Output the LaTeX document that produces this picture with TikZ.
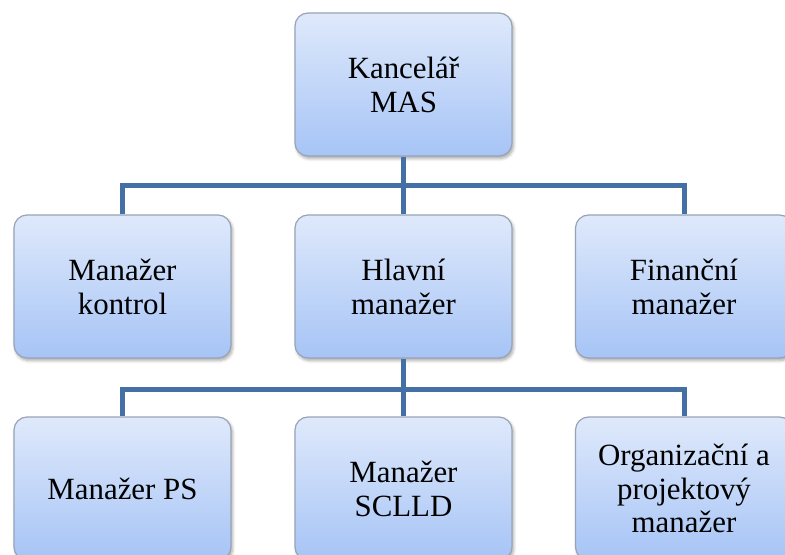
\documentclass[tikz,border=0pt]{standalone}
\usepackage{fontspec}
\setmainfont{Liberation Serif}
\newfontfamily\tnr{Liberation Serif}
\usetikzlibrary{shadows.blur}
\definecolor{conncol}{HTML}{4570A5}
\definecolor{boxtop}{HTML}{DFE9FB}
\definecolor{boxbot}{HTML}{A6C4F6}
\definecolor{boxline}{HTML}{98A4B6}
\tikzset{
  orgbox/.style={draw=boxline, line width=1.2bp, rounded corners=13bp,
    top color=boxtop, bottom color=boxbot,
    minimum width=217bp, minimum height=143bp, inner sep=0pt,
    align=center, font=\tnr\fontsize{31}{34}\selectfont,
    blur shadow={shadow xshift=1.5bp, shadow yshift=-2.5bp, shadow blur steps=6, shadow blur radius=3bp, shadow opacity=35}},
  conn/.style={draw=conncol, line width=5bp}
}
\begin{document}
\begin{tikzpicture}[x=1bp,y=-1bp]
\useasboundingbox (0,0) rectangle (785,555);
\clip (0,0) rectangle (785,555);
\coordinate (j1) at (403.5,186);
\coordinate (j2) at (403.5,389);
\node[orgbox] (k) at (403.5,84.5) {Kancelář\\MAS};
\node[orgbox] (mk) at (122.5,286.5) {Manažer\\kontrol};
\node[orgbox] (hm) at (403.5,286.5) {Hlavní\\manažer};
\node[orgbox] (fm) at (684,286.5) {Finanční\\manažer};
\node[orgbox] (ps) at (122.5,488.5) {Manažer PS};
\node[orgbox] (sc) at (403.5,488.5) {Manažer\\SCLLD};
\node[orgbox] (op) at (684,488.5) {Organizační a\\projektový\\manažer};
\draw[conn] (k.south) -- (hm.north);
\draw[conn] (mk.north) -- (mk.north |- j1) -- (fm.north |- j1) -- (fm.north);
\draw[conn] (hm.south) -- (sc.north);
\draw[conn] (ps.north) -- (ps.north |- j2) -- (op.north |- j2) -- (op.north);
\end{tikzpicture}
\end{document}
